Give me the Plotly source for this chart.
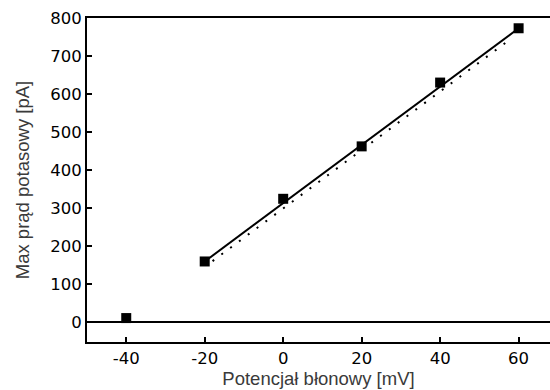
import plotly.graph_objects as go

# Data
potential_mv = [-40, -20, 0, 20, 40, 60]
current_pa = [10, 159, 324, 462, 630, 773]

fit_x = [-20, 60]
fit_y = [159, 773]

dotted_x = [-18, 58]
dotted_y = [160, 745]

x_ticks = [-40, -20, 0, 20, 40, 60]
x_tick_labels = ["-40", "-20", "0", "20", "40", "60"]
y_ticks = [0, 100, 200, 300, 400, 500, 600, 700, 800]

fig = go.Figure()

fig.add_trace(go.Scatter(
    x=dotted_x, y=dotted_y, mode="lines",
    line=dict(color="black", width=2, dash="2px,9px"),
    showlegend=False, hoverinfo="skip"))

fig.add_trace(go.Scatter(
    x=fit_x, y=fit_y, mode="lines",
    line=dict(color="black", width=2),
    showlegend=False, hoverinfo="skip"))

fig.add_trace(go.Scatter(
    x=potential_mv, y=current_pa, mode="markers",
    marker=dict(symbol="square", size=10, color="black"),
    showlegend=False))

fig.update_layout(
    width=550, height=390,
    margin=dict(l=87, r=0, t=18, b=48),
    paper_bgcolor="white", plot_bgcolor="white",
    font=dict(family="DejaVu Sans", color="black"),
    xaxis=dict(
        range=[-50, 68], tickvals=x_ticks, ticktext=x_tick_labels,
        ticks="inside", ticklen=5, tickwidth=2, tickcolor="black",
        showline=True, linecolor="black", linewidth=2, mirror=True,
        showgrid=False, zeroline=False,
        tickfont=dict(size=16.5, family="DejaVu Sans", color="black"),
        title=dict(text="Potencjał błonowy [mV]",
                   font=dict(size=18.5, family="Liberation Sans", color="#3a3a3a"),
                   standoff=5),
    ),
    yaxis=dict(
        range=[-53, 800], tickvals=y_ticks,
        ticks="inside", ticklen=5, tickwidth=2, tickcolor="black",
        showline=True, linecolor="black", linewidth=2,
        showgrid=False,
        zeroline=True, zerolinecolor="black", zerolinewidth=2,
        tickfont=dict(size=16.5, family="DejaVu Sans", color="black"),
        title=dict(text="Max prąd potasowy [pA]",
                   font=dict(size=18.5, family="Liberation Sans", color="#3a3a3a"),
                   standoff=16),
    ),
)

fig.write_html("out.html")
